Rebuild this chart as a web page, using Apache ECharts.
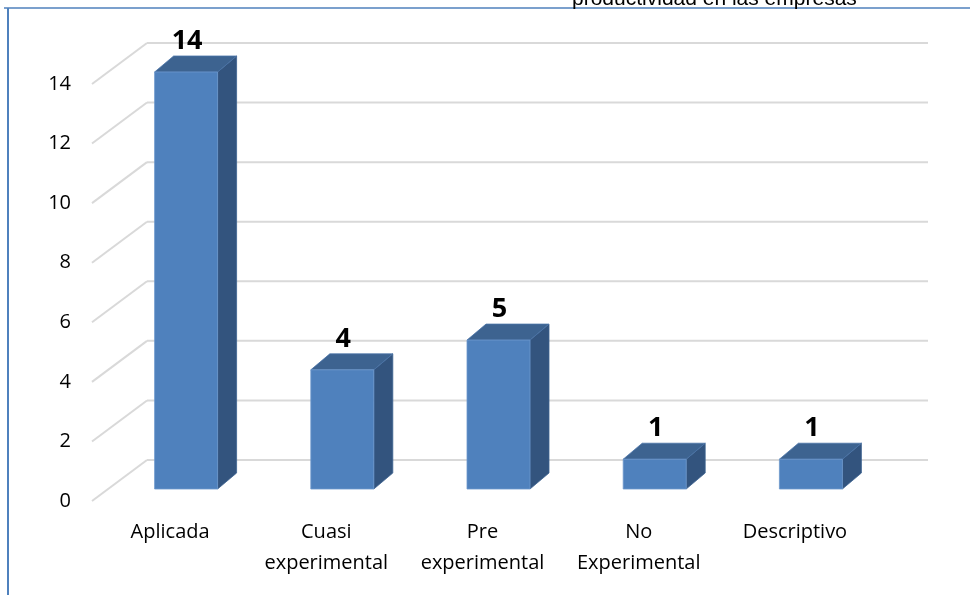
<!DOCTYPE html>
<html>
<head>
<meta charset="utf-8">
<script src="https://cdn.jsdelivr.net/npm/echarts@6/dist/echarts.min.js"></script>
<style>html,body{margin:0;padding:0;background:#fff;}#c{width:970px;height:595px;}</style>
</head>
<body>
<div id="c"></div>
<script>
const categories = ['Aplicada', 'Cuasi\nexperimental', 'Pre\nexperimental', 'No\nExperimental', 'Descriptivo'];
const values = [14, 4, 5, 1, 1];
const yTicks = [0, 2, 4, 6, 8, 10, 12, 14];
const titleText = 'productividad en las empresas';

const BACK_DX = 39, BACK_DY = -29;   // back wall offset from bar front plane
const FRONT_DX = -16, FRONT_DY = 12; // label plane offset
const DEPTH_DX = 19, DEPTH_DY = -16; // bar depth
const BAR_W = 63;

const chart = echarts.init(document.getElementById('c'), null, {renderer: 'canvas'});
chart.setOption({
  backgroundColor: '#ffffff',
  animation: false,
  grid: {left: 108, right: 970 - 889, top: 72, bottom: 595 - 489, containLabel: false},
  xAxis: {
    type: 'category', data: categories,
    axisLine: {show: false}, axisTick: {show: false}, splitLine: {show: false},
    axisLabel: {
      interval: 0, margin: 28, color: '#000', fontFamily: 'Open Sans', fontSize: 20,
      lineHeight: 31, padding: [0, 32, 0, 0]
    }
  },
  yAxis: {
    type: 'value', min: 0, max: 14, interval: 2,
    axisLine: {show: false}, axisTick: {show: false}, splitLine: {show: false},
    axisLabel: {show: false}
  },
  graphic: [
    {type: 'line', shape: {x1: 4, y1: 8, x2: 970, y2: 8}, style: {stroke: '#4f81bd', lineWidth: 1.5}, z: 10},
    {type: 'line', shape: {x1: 8, y1: 8, x2: 8, y2: 595}, style: {stroke: '#4f81bd', lineWidth: 2}, z: 10},
    {type: 'text', left: 572, top: -11, style: {text: titleText, fontFamily: 'Liberation Sans', fontSize: 21, fill: '#000'}, z: 10}
  ],
  series: [
    {
      type: 'custom', z: 1, silent: true,
      data: yTicks.map(v => [0, v]),
      renderItem: function (params, api) {
        const cs = params.coordSys;
        const v = api.value(1);
        const y = api.coord([0, v])[1];
        const bx = cs.x + BACK_DX, by = y + BACK_DY;
        const st = {stroke: '#d9d9d9', lineWidth: 2, fill: null};
        return {type: 'group', children: [
          {type: 'line', shape: {x1: cs.x + FRONT_DX, y1: y + FRONT_DY, x2: bx, y2: by}, style: st},
          {type: 'line', shape: {x1: bx, y1: by, x2: cs.x + cs.width + BACK_DX, y2: by}, style: st},
          {type: 'text', style: {text: String(v), x: cs.x + FRONT_DX - 21, y: y + FRONT_DY, textAlign: 'right', textVerticalAlign: 'middle',
            fontFamily: 'Open Sans', fontSize: 20, fill: '#000'}}
        ]};
      }
    },
    {
      type: 'custom', z: 2,
      data: values.map((v, i) => [i, v]),
      renderItem: function (params, api) {
        const i = api.value(0), v = api.value(1);
        const top = api.coord([i, v]);
        const base = api.coord([i, 0]);
        const xc = top[0], yt = top[1], yb = base[1];
        const xl = xc - BAR_W / 2, xr = xc + BAR_W / 2;
        return {type: 'group', children: [
          {type: 'polygon', shape: {points: [[xr, yt], [xr + DEPTH_DX, yt + DEPTH_DY], [xr + DEPTH_DX, yb + DEPTH_DY], [xr, yb]]},
            style: {fill: '#33547e', stroke: '#3d6391', lineWidth: 0.8}},
          {type: 'polygon', shape: {points: [[xl, yt], [xl + DEPTH_DX, yt + DEPTH_DY], [xr + DEPTH_DX, yt + DEPTH_DY], [xr, yt]]},
            style: {fill: '#3d6390', stroke: '#4a74a8', lineWidth: 0.8}},
          {type: 'rect', shape: {x: xl, y: yt, width: BAR_W, height: yb - yt},
            style: {fill: '#4f81bd', stroke: '#6d98cd', lineWidth: 0.8}},
          {type: 'text', z2: 10, style: {text: String(v), x: xc + 1, y: yt + DEPTH_DY - 1, textAlign: 'center', textVerticalAlign: 'bottom',
            fontFamily: 'Open Sans', fontWeight: 'bold', fontSize: 27, fill: '#000'}}
        ]};
      }
    }
  ]
});
</script>
</body>
</html>
